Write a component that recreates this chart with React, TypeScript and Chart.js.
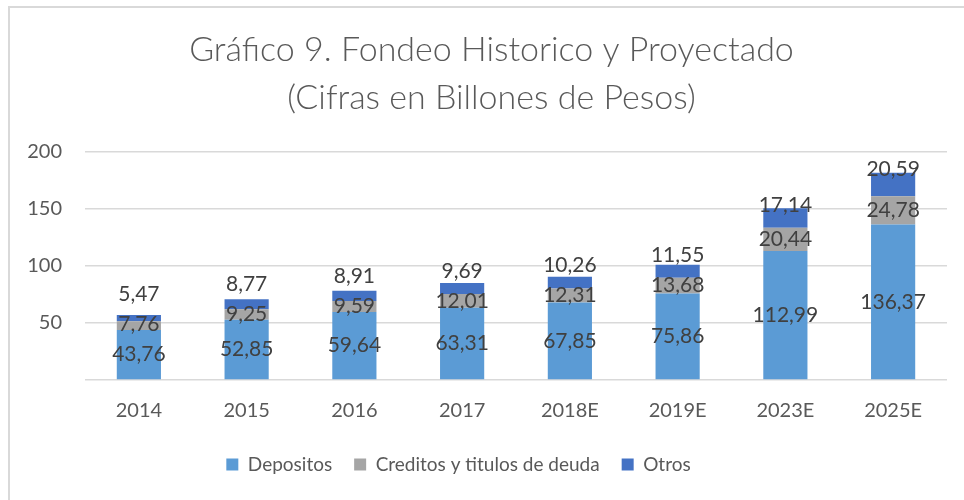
import React, { useEffect, useRef } from 'react';
import { Chart, registerables } from 'chart.js';

Chart.register(...registerables);

const categories = ['2014', '2015', '2016', '2017', '2018E', '2019E', '2023E', '2025E'];
const depositos = [43.76, 52.85, 59.64, 63.31, 67.85, 75.86, 112.99, 136.37];
const creditos = [7.76, 9.25, 9.59, 12.01, 12.31, 13.68, 20.44, 24.78];
const otros = [5.47, 8.77, 8.91, 9.69, 10.26, 11.55, 17.14, 20.59];
const seriesNames = ['Depositos', 'Creditos y titulos de deuda', 'Otros'];
const yMin = 0;
const yMax = 200;
const yStep = 50;
const titleLines = ['Gráfico 9. Fondeo Historico y Proyectado', '(Cifras en Billones de Pesos)'];

const TEXT = '#595959';
const LABEL = '#404040';
const GRID = '#D9D9D9';
const FONT = 'Lato, "Open Sans", sans-serif';

const fmt = (v: number) => v.toFixed(2).replace('.', ',');

const shiftPlugin = {
  id: 'shiftBlocks',
  afterLayout(chart: any) {
    const t = chart.titleBlock;
    if (t) {
      t.left += 18;
      t.right += 18;
    }
    const l = chart.legend;
    if (l) {
      l.left -= 15;
      l.right -= 15;
    }
  },
};

const labelPlugin = {
  id: 'segLabels',
  afterDatasetsDraw(chart: any) {
    const ctx = chart.ctx;
    ctx.save();
    ctx.font = `21px ${FONT}`;
    ctx.fillStyle = LABEL;
    ctx.textAlign = 'center';
    ctx.textBaseline = 'middle';
    const n = chart.data.labels.length;
    const nd = chart.data.datasets.length;
    for (let j = 0; j < n; j++) {
      let prevY = Infinity;
      chart.data.datasets.forEach((ds: any, i: number) => {
        const el = chart.getDatasetMeta(i).data[j];
        const center = (el.y + el.base) / 2;
        let y = Math.min(center, prevY - 30);
        if (i === nd - 1) y = Math.min(y, el.y - 3);
        ctx.fillText(fmt(ds.data[j]), el.x, y);
        prevY = y;
      });
    }
    ctx.restore();
  },
};

export default function App() {
  const ref = useRef<HTMLCanvasElement>(null);

  useEffect(() => {
    const chart = new Chart(ref.current as HTMLCanvasElement, {
      type: 'bar',
      data: {
        labels: categories,
        datasets: [
          { label: seriesNames[0], data: depositos, backgroundColor: '#5B9BD5' },
          { label: seriesNames[1], data: creditos, backgroundColor: '#A5A5A5' },
          { label: seriesNames[2], data: otros, backgroundColor: '#4472C4' },
        ],
      },
      options: {
        responsive: false,
        animation: false,
        layout: { padding: { left: 0, right: 17, top: 0, bottom: 16 } },
        datasets: {
          bar: { barPercentage: 0.41, categoryPercentage: 1 },
        },
        scales: {
          x: {
            stacked: true,
            grid: { display: false, drawTicks: false },
            border: { display: false },
            ticks: { color: TEXT, font: { family: FONT, size: 20 }, padding: 19 },
            afterFit: (s: any) => {
              s.height = 53;
            },
          },
          y: {
            stacked: true,
            min: yMin,
            max: yMax,
            grid: { color: GRID, lineWidth: 1.5, drawTicks: false },
            border: { display: false },
            ticks: {
              stepSize: yStep,
              color: TEXT,
              font: { family: FONT, size: 20 },
              padding: 23,
              callback: (v: any) => (v === 0 ? '' : String(v)),
            },
            afterFit: (s: any) => {
              s.width = 85;
            },
          },
        },
        plugins: {
          title: {
            display: true,
            text: titleLines,
            color: TEXT,
            font: { family: FONT, size: 34, weight: 300 as any, lineHeight: 1.41 },
            padding: { top: 26, bottom: 30 },
          },
          legend: {
            position: 'bottom',
            labels: {
              boxWidth: 12,
              boxHeight: 12,
              color: TEXT,
              font: { family: FONT, size: 19 },
              padding: 22,
            },
          },
          tooltip: { enabled: false },
        },
      },
      plugins: [shiftPlugin, labelPlugin],
    });
    return () => chart.destroy();
  }, []);

  return (
    <div style={{ position: 'fixed', left: 0, top: 0, width: 964, height: 500, background: '#fff', overflow: 'hidden' }}>
      <div
        style={{
          position: 'absolute',
          left: 8,
          top: 6,
          width: 1000,
          height: 600,
          borderLeft: '2px solid #D9D9D9',
          borderTop: '2px solid #D9D9D9',
        }}
      />
      <canvas
        ref={ref}
        width={964}
        height={500}
        style={{ position: 'absolute', left: 0, top: 0, width: 964, height: 500 }}
      />
    </div>
  );
}
